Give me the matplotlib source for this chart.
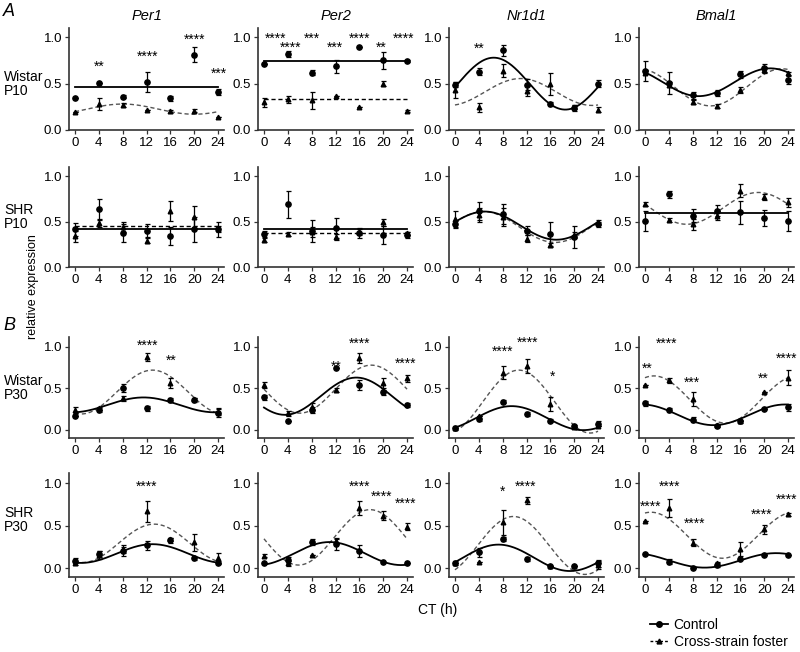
import numpy as np
import matplotlib.pyplot as plt
from matplotlib.lines import Line2D
from matplotlib.transforms import offset_copy

plt.rcParams['font.family'] = ['Liberation Sans', 'DejaVu Sans']

ct = [0, 4, 8, 12, 16, 20, 24]
genes = ['Per1', 'Per2', 'Nr1d1', 'Bmal1']
row_labels = ['Wistar\nP10', 'SHR\nP10', 'Wistar\nP30', 'SHR\nP30']

# --- Wistar P10 (one list per gene: Per1, Per2, Nr1d1, Bmal1) ---
w10_ctrl = [[0.35, 0.51, 0.36, 0.52, 0.34, 0.81, 0.41],
            [0.71, 0.82, 0.62, 0.69, 0.90, 0.75, 0.74],
            [0.49, 0.63, 0.86, 0.49, 0.28, 0.24, 0.50],
            [0.635, 0.51, 0.375, 0.40, 0.60, 0.67, 0.54]]
w10_ctrl_err = [[0, 0, 0.02, 0.11, 0.03, 0.08, 0.03],
                [0, 0.03, 0.03, 0.07, 0, 0.09, 0.01],
                [0.03, 0.04, 0.06, 0.06, 0.02, 0.03, 0.04],
                [0.11, 0.12, 0.04, 0.03, 0.04, 0.04, 0.04]]
w10_fost = [[0.19, 0.28, 0.27, 0.22, 0.20, 0.21, 0.14],
            [0.30, 0.33, 0.32, 0.37, 0.245, 0.50, 0.205],
            [0.43, 0.245, 0.64, 0.42, 0.50, 0.25, 0.22],
            [0.62, 0.49, 0.305, 0.26, 0.43, 0.65, 0.61]]
w10_fost_err = [[0, 0.06, 0.02, 0, 0.02, 0.02, 0],
                [0.05, 0.04, 0.09, 0, 0, 0.03, 0.01],
                [0.09, 0.05, 0.07, 0.05, 0.12, 0.02, 0.03],
                [0.02, 0.03, 0.02, 0.02, 0.03, 0.03, 0.02]]
# cosinor fits: (mesor, amplitude, acrophase h)
w10_ctrl_fit = [(0.46, 0, 0), (0.745, 0, 0), (0.50, 0.28, 6.5), (0.515, 0.15, 21)]
w10_fost_fit = [(0.225, 0.055, 8), (0.33, 0, 0), (0.41, 0.145, 11), (0.46, 0.20, 23)]
w10_stars = [[(4.1, 0.72, '**'), (12.1, 0.83, '****'), (20, 1.01, '****'), (24.2, 0.65, '***')],
             [(1.9, 1.02, '****'), (4.5, 0.93, '****'), (8.0, 1.02, '***'), (11.9, 0.93, '***'),
              (16.1, 1.02, '****'), (19.7, 0.93, '**'), (23.5, 1.02, '****')],
             [(4.0, 0.92, '**')],
             []]

# --- SHR P10 ---
s10_ctrl = [[0.415, 0.64, 0.37, 0.40, 0.34, 0.415, 0.415],
            [0.36, 0.69, 0.40, 0.43, 0.37, 0.35, 0.35],
            [0.47, 0.62, 0.585, 0.40, 0.36, 0.33, 0.47],
            [0.505, 0.80, 0.565, 0.62, 0.60, 0.54, 0.505]]
s10_ctrl_err = [[0.07, 0.11, 0.10, 0.07, 0.10, 0.14, 0.08],
                [0.04, 0.15, 0.12, 0.11, 0.05, 0.10, 0.03],
                [0.04, 0.10, 0.11, 0.05, 0.13, 0.12, 0.03],
                [0.11, 0.04, 0.07, 0.06, 0.13, 0.09, 0.11]]
s10_fost = [[0.34, 0.48, 0.44, 0.29, 0.62, 0.55, 0.42],
            [0.30, 0.36, 0.385, 0.33, 0.39, 0.49, 0.37],
            [0.53, 0.57, 0.55, 0.31, 0.24, 0.35, 0.49],
            [0.69, 0.52, 0.47, 0.565, 0.84, 0.77, 0.71]]
s10_fost_err = [[0.06, 0.04, 0.05, 0.03, 0.11, 0.12, 0.03],
                [0.03, 0.02, 0.05, 0.03, 0.04, 0.04, 0.02],
                [0.09, 0.08, 0.10, 0.04, 0.02, 0.03, 0.03],
                [0.02, 0.02, 0.06, 0.05, 0.07, 0.03, 0.05]]
s10_ctrl_fit = [(0.42, 0, 0), (0.42, 0, 0), (0.455, 0.155, 5), (0.595, 0, 0)]
s10_fost_fit = [(0.455, 0, 0), (0.37, 0, 0), (0.44, 0.17, 4.8), (0.645, 0.175, 19)]
s10_stars = [[], [], [], []]

# --- Wistar P30 ---
w30_ctrl = [[0.16, 0.24, 0.50, 0.26, 0.36, 0.36, 0.20],
            [0.39, 0.10, 0.24, 0.74, 0.54, 0.45, 0.30],
            [0.02, 0.13, 0.34, 0.19, 0.11, 0.04, 0.07],
            [0.32, 0.24, 0.12, 0.05, 0.10, 0.25, 0.27]]
w30_ctrl_err = [[0, 0.02, 0.05, 0.03, 0.02, 0.02, 0.05],
                [0.03, 0, 0.04, 0, 0.06, 0.03, 0.02],
                [0.02, 0.03, 0.02, 0.03, 0.02, 0.02, 0.03],
                [0.03, 0.02, 0.03, 0.02, 0.02, 0, 0.04]]
w30_fost = [[0.24, 0.26, 0.38, 0.88, 0.56, 0.37, 0.22],
            [0.54, 0.20, 0.28, 0.48, 0.87, 0.56, 0.62],
            [0.02, 0.16, 0.69, 0.77, 0.31, 0.03, 0.05],
            [0.54, 0.60, 0.37, 0.06, 0.11, 0.46, 0.63]]
w30_fost_err = [[0.04, 0.02, 0.03, 0.05, 0.06, 0.01, 0.04],
                [0.04, 0.03, 0.04, 0.03, 0.06, 0.06, 0.04],
                [0, 0, 0.08, 0.08, 0.08, 0, 0],
                [0, 0.03, 0.08, 0, 0, 0, 0.09]]
w30_ctrl_fit = [(0.30, 0.09, 11.5), (0.405, 0.225, 15.5), (0.14, 0.145, 9.5), (0.18, 0.125, 23.5)]
w30_fost_fit = [(0.455, 0.265, 13), (0.49, 0.29, 18), (0.34, 0.38, 10.7), (0.365, 0.285, 1.5)]
w30_stars = [[(12.2, 1.06, '****'), (16.1, 0.88, '**')],
             [(12.1, 0.81, '**'), (16.1, 1.08, '****'), (23.8, 0.84, '****')],
             [(8.0, 0.99, '****'), (12.2, 1.10, '****'), (16.4, 0.69, '*')],
             [(0.3, 0.78, '**'), (3.7, 1.08, '****'), (7.9, 0.61, '***'),
              (19.8, 0.66, '**'), (23.7, 0.90, '****')]]

# --- SHR P30 ---
s30_ctrl = [[0.09, 0.17, 0.20, 0.27, 0.33, 0.12, 0.07],
            [0.06, 0.10, 0.31, 0.29, 0.20, 0.08, 0.06],
            [0.065, 0.19, 0.345, 0.11, 0.03, 0.03, 0.06],
            [0.17, 0.08, 0.01, 0.04, 0.11, 0.155, 0.16]]
s30_ctrl_err = [[0.03, 0.04, 0.05, 0.05, 0.03, 0.02, 0.02],
                [0, 0.04, 0.04, 0.07, 0.07, 0, 0],
                [0.02, 0.05, 0.02, 0.02, 0, 0, 0.04],
                [0, 0.03, 0, 0.02, 0, 0, 0]]
s30_fost = [[0.06, 0.16, 0.23, 0.67, 0.34, 0.31, 0.12],
            [0.15, 0.06, 0.16, 0.32, 0.71, 0.62, 0.49],
            [0.06, 0.08, 0.54, 0.80, 0.03, 0.03, 0.04],
            [0.56, 0.71, 0.30, 0.06, 0.23, 0.46, 0.635]]
s30_fost_err = [[0.02, 0.05, 0.05, 0.12, 0.02, 0.10, 0.06],
                [0.02, 0.03, 0, 0.03, 0.08, 0.05, 0.04],
                [0, 0, 0.15, 0.04, 0, 0, 0.05],
                [0, 0.11, 0.04, 0.02, 0.08, 0.05, 0.02]]
s30_ctrl_fit = [(0.175, 0.11, 13), (0.175, 0.135, 11), (0.125, 0.155, 7.3), (0.095, 0.085, 22)]
s30_fost_fit = [(0.295, 0.225, 13.3), (0.365, 0.325, 17.8), (0.27, 0.34, 9.8), (0.39, 0.27, 1)]
s30_stars = [[(12.0, 1.0, '****')],
             [(16.1, 1.0, '****'), (19.8, 0.88, '****'), (23.8, 0.80, '****')],
             [(8.0, 0.94, '*'), (11.9, 1.0, '****')],
             [(1.0, 0.77, '****'), (4.2, 1.0, '****'), (8.4, 0.57, '****'),
              (19.6, 0.67, '****'), (23.7, 0.85, '****')]]

rows = [
    (w10_ctrl, w10_ctrl_err, w10_fost, w10_fost_err, w10_ctrl_fit, w10_fost_fit, w10_stars),
    (s10_ctrl, s10_ctrl_err, s10_fost, s10_fost_err, s10_ctrl_fit, s10_fost_fit, s10_stars),
    (w30_ctrl, w30_ctrl_err, w30_fost, w30_fost_err, w30_ctrl_fit, w30_fost_fit, w30_stars),
    (s30_ctrl, s30_ctrl_err, s30_fost, s30_fost_err, s30_ctrl_fit, s30_fost_fit, s30_stars),
]

W, H = 800, 652
fig = plt.figure(figsize=(W / 100, H / 100), dpi=100)

col_x = [69, 258, 449, 639]
ax_w = 155
row_y = [(28, 130), (167, 267), (337, 438), (473, 577)]
ylims = [(0, 1.1), (0, 1.1), (-0.1, 1.12), (-0.1, 1.12)]
label_y = [84, 217, 388, 520]
spine_col = '#333333'
dash_col = '#555555'

tt = np.linspace(0, 24, 200)


def cosinor(p, t):
    m, a, phi = p
    return m + a * np.cos(2 * np.pi * (t - phi) / 24)


for r, (cm, ce, fm, fe, cfit, ffit, stars) in enumerate(rows):
    top, bot = row_y[r]
    for c in range(4):
        ax = fig.add_axes([col_x[c] / W, 1 - bot / H, ax_w / W, (bot - top) / H])
        ax.set_xlim(-1, 25)
        ax.set_ylim(*ylims[r])

        # fitted curves
        ax.plot(tt, cosinor(ffit[c], tt), color=dash_col if ffit[c][1] else 'k',
                lw=1.0, ls=(0, (3, 2)), zorder=2)
        ax.plot(tt, cosinor(cfit[c], tt), color='k', lw=1.3, zorder=2)

        # data points
        ax.errorbar(ct, fm[c], yerr=fe[c], fmt='^', ms=3.3, color='k', ecolor='k',
                    elinewidth=0.9, capsize=1.8, capthick=0.9, zorder=3)
        ax.errorbar(ct, cm[c], yerr=ce[c], fmt='o', ms=3.8, color='k', ecolor='k',
                    elinewidth=0.9, capsize=1.8, capthick=0.9, zorder=4)

        # significance
        trans = offset_copy(ax.transData, fig=fig, y=-5.6, units='points')
        for x, y, s in stars[c]:
            ax.text(x, y, s, transform=trans, ha='center', va='baseline',
                    fontsize=10, clip_on=False)

        for side in ['top', 'right']:
            ax.spines[side].set_visible(False)
        for side in ['left', 'bottom']:
            ax.spines[side].set_color(spine_col)
            ax.spines[side].set_linewidth(1.2)
        ax.set_xticks(ct)
        ax.set_yticks([0, 0.5, 1.0])
        ax.set_yticklabels(['0.0', '0.5', '1.0'])
        ax.tick_params(direction='out', length=3, width=0.9, color=spine_col,
                       labelsize=9.5, pad=2)

        if r == 0:
            ax.set_title(genes[c], fontsize=10.5, style='italic', pad=6)

    fig.text(4 / W, 1 - label_y[r] / H, row_labels[r], fontsize=10, ha='left',
             va='center', linespacing=1.05)

fig.text(3 / W, 1 - 12 / H, 'A', fontsize=13, style='italic', ha='left', va='center')
fig.text(3 / W, 1 - 325 / H, 'B', fontsize=13, style='italic', ha='left', va='center')
fig.text(33 / W, 1 - 287 / H, 'relative expression', fontsize=9, rotation=90,
         ha='center', va='center')
fig.text(438 / W, 1 - 610 / H, 'CT (h)', fontsize=10, ha='center', va='center')

handles = [Line2D([], [], color='k', marker='o', ms=4, lw=1.3),
           Line2D([], [], color='k', marker='^', ms=3.5, lw=1.0, ls=(0, (2, 1.5)))]
fig.legend(handles, ['Control', 'Cross-strain foster'], loc='upper left',
           bbox_to_anchor=(650 / W, 1 - 618 / H), frameon=False, fontsize=10,
           handlelength=1.3, handletextpad=0.4, labelspacing=0.2,
           borderaxespad=0, borderpad=0)

fig.savefig('out.png', dpi=100)
